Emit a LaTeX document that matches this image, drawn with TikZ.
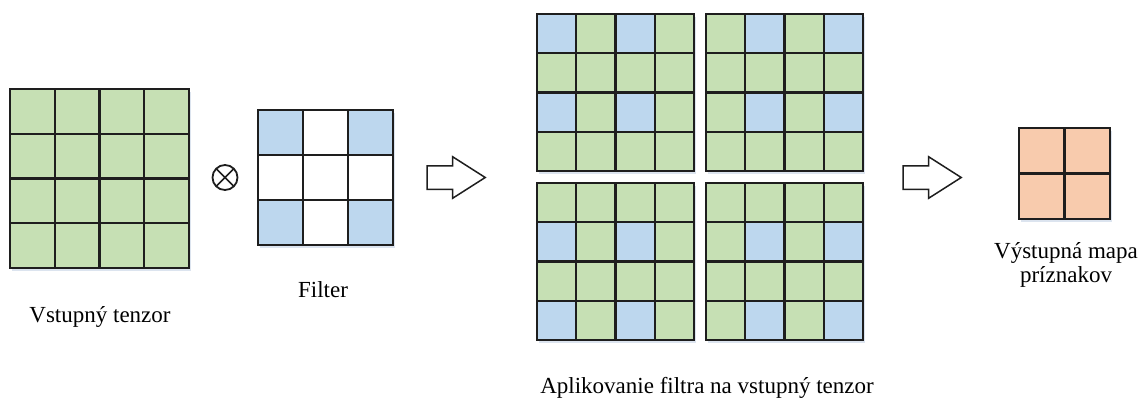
\documentclass[tikz,border=0pt]{standalone}
\usepackage{fontspec}
\setmainfont{Liberation Serif}
\usetikzlibrary{shapes.arrows}

\definecolor{cellgreen}{HTML}{C6E0B4}
\definecolor{cellblue}{HTML}{BDD7EE}
\definecolor{cellorange}{HTML}{F8CBAD}
\definecolor{gridline}{HTML}{1E1E1E}
\definecolor{softshadow}{HTML}{DCE4EF}

% grid of n x n square cells: #1 name, #2 x, #3 y (top left), #4 cell size, #5 n, #6 fill
\newcommand\cellgrid[6]{%
  \fill[softshadow] (#2+1.5,#3+2.5) rectangle ++(#4*#5,#4*#5);
  \fill[#6] (#2,#3) rectangle ++(#4*#5,#4*#5);
  \node[gridbox, minimum size=#4*#5, anchor=north west] (#1) at (#2,#3) {};
}
% lines of a grid, drawn after any highlighted cells
\newcommand\gridlines[4]{%
  \foreach \k in {0,...,#4} {
    \draw[gridln] (#1+\k*#3,#2) -- ++(0,#3*#4);
    \draw[gridln] (#1,#2+\k*#3) -- ++(#3*#4,0);
  }
}
% highlighted cells: #1 x, #2 y, #3 cell size, #4 list col/row
\newcommand\bluecells[4]{%
  \foreach \c/\r in {#4} {
    \fill[cellblue] (#1+\c*#3,#2+\r*#3) rectangle ++(#3,#3);
  }
}

\begin{document}
\begin{tikzpicture}[x=1pt,y=-1pt,
  gridbox/.style={rectangle, draw=none, inner sep=0pt, outer sep=0pt},
  gridln/.style={draw=gridline, line width=2.2pt, line cap=rect},
  bigarrow/.style={single arrow, draw=gridline, fill=white, line width=1.5pt,
    minimum height=58pt, minimum width=41pt, single arrow head extend=9pt,
    single arrow tip angle=65, inner sep=0pt, text height=22pt, text depth=0pt},
  lbl/.style={font=\fontsize{23}{27}\selectfont, text=black, inner sep=0pt, anchor=base}]
\useasboundingbox (0,0) rectangle (1144,399);

% input tensor 4x4
\cellgrid{input}{10}{89}{44.75}{4}{cellgreen}
\gridlines{10}{89}{44.75}{4}

% convolution operator
\node[circle, draw=gridline, line width=1.8pt, minimum size=25pt, inner sep=0pt,
  path picture={\draw[gridline, line width=1.6pt]
    (path picture bounding box.north west) -- (path picture bounding box.south east)
    (path picture bounding box.north east) -- (path picture bounding box.south west);}]
  (op) at (225,177.5) {};

% 3x3 dilated filter
\cellgrid{filter}{258}{110}{45}{3}{white}
\bluecells{258}{110}{45}{0/0,2/0,0/2,2/2}
\gridlines{258}{110}{45}{3}

% first arrow
\node[bigarrow] (arr1) at (447,177.5) {};

% filter applied at four offsets
\cellgrid{appA}{537}{14}{39.25}{4}{cellgreen}
\bluecells{537}{14}{39.25}{0/0,2/0,0/2,2/2}
\gridlines{537}{14}{39.25}{4}

\cellgrid{appB}{706}{14}{39.25}{4}{cellgreen}
\bluecells{706}{14}{39.25}{1/0,3/0,1/2,3/2}
\gridlines{706}{14}{39.25}{4}

\cellgrid{appC}{537}{183}{39.25}{4}{cellgreen}
\bluecells{537}{183}{39.25}{0/1,2/1,0/3,2/3}
\gridlines{537}{183}{39.25}{4}

\cellgrid{appD}{706}{183}{39.25}{4}{cellgreen}
\bluecells{706}{183}{39.25}{1/1,3/1,1/3,3/3}
\gridlines{706}{183}{39.25}{4}

% second arrow
\node[bigarrow] (arr2) at (923,177.5) {};

% output feature map 2x2
\cellgrid{output}{1019}{128}{45.5}{2}{cellorange}
\gridlines{1019}{128}{45.5}{2}

% captions
\node[lbl] (capin) at (100,322) {Vstupný tenzor};
\node[lbl] (capfilter) at (323,297) {Filter};
\node[lbl] (capapp) at (707,393) {Aplikovanie filtra na vstupný tenzor};
\node[lbl] (capout1) at (1066,258) {Výstupná mapa};
\node[lbl] (capout2) at (1066,282) {príznakov};
\end{tikzpicture}
\end{document}
